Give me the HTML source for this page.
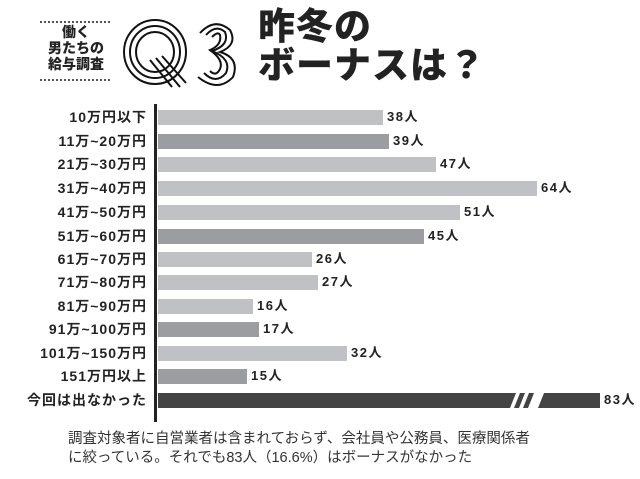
<!DOCTYPE html><html><head><meta charset="utf-8"><style>
body{margin:0;width:640px;height:479px;background:#fff;overflow:hidden;font-family:"Liberation Sans","Noto Sans CJK JP",sans-serif;position:relative;color:#222}
.l{position:absolute;right:493px;font-weight:bold;font-size:14px;letter-spacing:1px;line-height:16px;white-space:nowrap}
.b{position:absolute;left:158px;height:15px}
.v{position:absolute;font-weight:bold;font-size:13px;letter-spacing:1.5px;line-height:16px}
</style></head><body>
<div style="position:absolute;left:40px;top:21px;width:70px;border-top:2px dotted #555"></div>
<div style="position:absolute;left:36px;top:24px;width:80px;text-align:center;font-weight:900;font-size:14px;line-height:16px">働く<br>男たちの<br>給与調査</div>
<div style="position:absolute;left:40px;top:79px;width:70px;border-top:2px dotted #555"></div>
<svg style="position:absolute;left:120px;top:15px" width="125" height="75"><g fill="none" stroke="#111" stroke-width="2">
<ellipse cx="35" cy="37" rx="31" ry="32"/><ellipse cx="35" cy="37" rx="25" ry="26"/><ellipse cx="35" cy="37" rx="19" ry="20"/>
<path d="M30 45 L52 72 M36 43 L60 72 M42 41 L66 68"/>
<path d="M80 18 Q95 2 110 15 Q118 30 100 37 Q120 43 113 62 Q98 78 78 62"/>
<path d="M86 20 Q96 9 105 17 Q110 30 92 36 Q112 44 106 58 Q96 70 84 58"/>
<path d="M92 22 Q98 16 100 20 Q102 30 90 35 Q104 45 100 54 Q96 62 90 56"/></g></svg>
<div style="position:absolute;left:258px;top:7px;font-weight:900;font-size:37px;line-height:39px;letter-spacing:1px">昨冬の<br>ボーナスは？</div>
<div style="position:absolute;left:154px;top:104px;width:3px;height:318px;background:#222"></div>
<div class="l" style="top:109px">10万円以下</div><div class="b" style="top:110px;width:225px;background:#c0c1c5"></div><div class="v" style="left:387px;top:109px">38人</div>
<div class="l" style="top:133px">11万~20万円</div><div class="b" style="top:134px;width:231px;background:#9c9da1"></div><div class="v" style="left:393px;top:133px">39人</div>
<div class="l" style="top:156px">21万~30万円</div><div class="b" style="top:157px;width:278px;background:#c0c1c5"></div><div class="v" style="left:440px;top:156px">47人</div>
<div class="l" style="top:180px">31万~40万円</div><div class="b" style="top:181px;width:379px;background:#c0c1c5"></div><div class="v" style="left:541px;top:180px">64人</div>
<div class="l" style="top:204px">41万~50万円</div><div class="b" style="top:205px;width:302px;background:#c0c1c5"></div><div class="v" style="left:464px;top:204px">51人</div>
<div class="l" style="top:228px">51万~60万円</div><div class="b" style="top:229px;width:266px;background:#9c9da1"></div><div class="v" style="left:428px;top:228px">45人</div>
<div class="l" style="top:251px">61万~70万円</div><div class="b" style="top:252px;width:154px;background:#c0c1c5"></div><div class="v" style="left:316px;top:251px">26人</div>
<div class="l" style="top:274px">71万~80万円</div><div class="b" style="top:275px;width:160px;background:#c0c1c5"></div><div class="v" style="left:322px;top:274px">27人</div>
<div class="l" style="top:298px">81万~90万円</div><div class="b" style="top:299px;width:95px;background:#c0c1c5"></div><div class="v" style="left:257px;top:298px">16人</div>
<div class="l" style="top:321px">91万~100万円</div><div class="b" style="top:322px;width:101px;background:#9c9da1"></div><div class="v" style="left:263px;top:321px">17人</div>
<div class="l" style="top:345px">101万~150万円</div><div class="b" style="top:346px;width:189px;background:#c0c1c5"></div><div class="v" style="left:351px;top:345px">32人</div>
<div class="l" style="top:368px">151万円以上</div><div class="b" style="top:369px;width:89px;background:#9c9da1"></div><div class="v" style="left:251px;top:368px">15人</div>
<div class="l" style="top:392px">今回は出なかった</div>
<svg style="position:absolute;left:158px;top:393px" width="450" height="15"><polygon points="0,0 358,0 352,15 0,15" fill="#444"/><polygon points="362,0 367,0 361,15 356,15" fill="#444"/><polygon points="371,0 376,0 370,15 365,15" fill="#444"/><polygon points="386,0 442,0 442,15 380,15" fill="#444"/></svg>
<div class="v" style="left:604px;top:392px">83人</div>
<div style="position:absolute;left:68px;top:430px;font-size:14.5px;line-height:19px;color:#333">調査対象者に自営業者は含まれておらず、会社員や公務員、医療関係者<br>に絞っている。それでも83人（16.6%）はボーナスがなかった</div>
</body></html>
